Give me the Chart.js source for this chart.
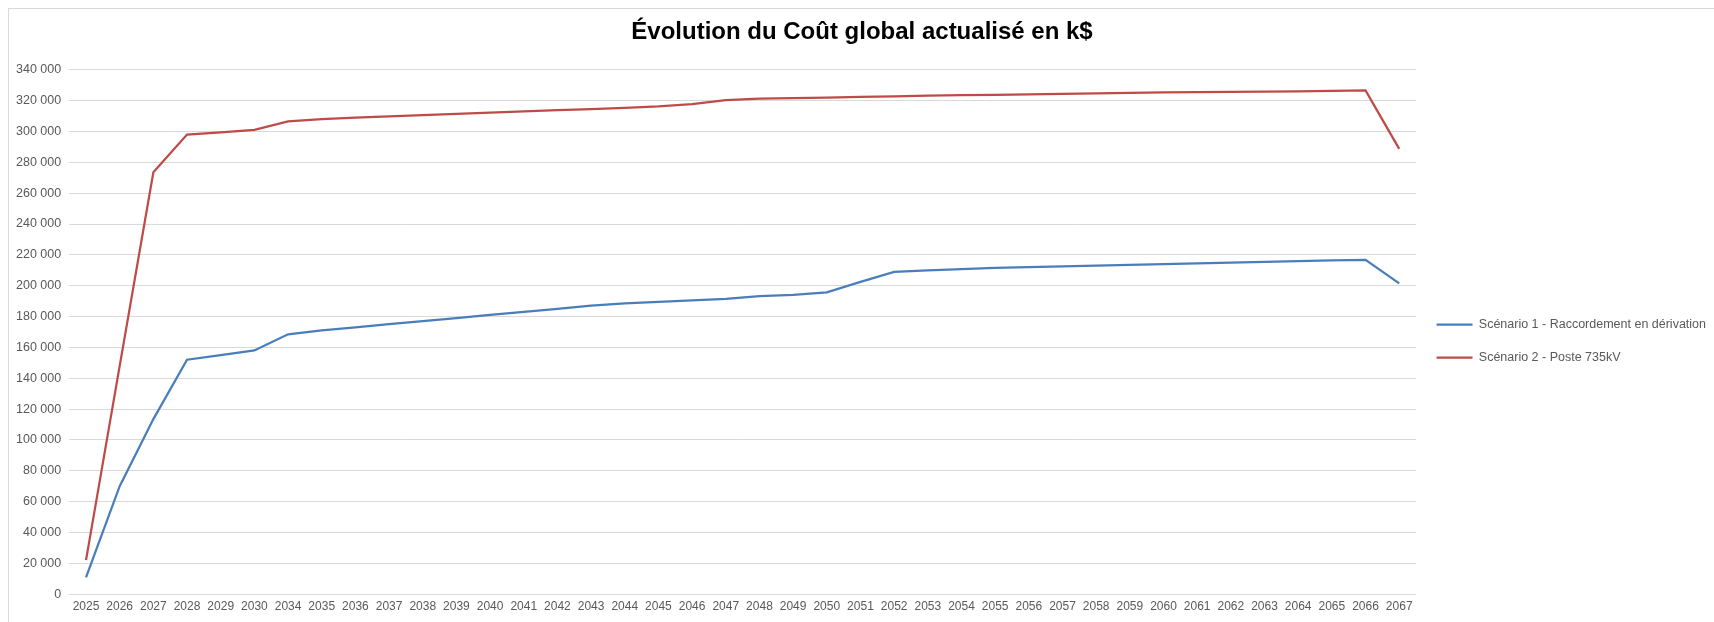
<!DOCTYPE html>
<html>
<head>
<meta charset="utf-8">
<script src="https://cdn.jsdelivr.net/npm/chart.js@4/dist/chart.umd.min.js"></script>
<style>
  html, body { margin: 0; padding: 0; background: #fff; overflow: hidden; }
  #frame { position: absolute; left: 8px; top: 8px; width: 1730px; height: 640px; border: 1px solid #d9d9d9; }
  #wrap { position: absolute; left: 0; top: 0; width: 1714px; height: 622px; }
</style>
</head>
<body>
<div id="frame"></div>
<div id="wrap"><canvas id="chart"></canvas></div>
<script>
// --- données ---
const annees = ['2025','2026','2027','2028','2029','2030','2034','2035','2036','2037','2038','2039','2040','2041','2042','2043','2044','2045','2046','2047','2048','2049','2050','2051','2052','2053','2054','2055','2056','2057','2058','2059','2060','2061','2062','2063','2064','2065','2066','2067'];

const scenario1 = [10800, 70000, 113500, 152000, 155000, 158000, 168500, 171000, 173000, 175000, 177000, 179000, 181000, 183000, 185000, 187000, 188500, 189500, 190500, 191500, 193300, 194000, 195700, 202500, 209000, 210000, 210800, 211500, 212000, 212500, 213000, 213500, 214000, 214500, 215000, 215500, 216000, 216400, 216800, 201500];

const scenario2 = [22000, 148000, 273500, 298000, 299500, 301000, 306500, 308000, 309000, 309800, 310600, 311400, 312200, 313000, 313800, 314500, 315300, 316300, 317800, 320300, 321300, 321700, 322000, 322400, 322800, 323200, 323500, 323800, 324100, 324400, 324700, 325000, 325300, 325500, 325700, 325900, 326000, 326300, 326600, 288700];

const FONT = "'Liberation Sans', Arial, sans-serif";
const GRIS = '#595959';

const ctx = document.getElementById('chart').getContext('2d');
const chart = new Chart(ctx, {
    type: 'line',
    data: {
        labels: annees,
        datasets: [
            { label: 'Scénario 1 - Raccordement en dérivation', data: scenario1, borderColor: '#4a7ebb', backgroundColor: '#4a7ebb', borderWidth: 2.25, pointRadius: 0, tension: 0 },
            { label: 'Scénario 2 - Poste 735kV', data: scenario2, borderColor: '#be4b48', backgroundColor: '#be4b48', borderWidth: 2.25, pointRadius: 0, tension: 0 }
        ]
    },
    options: {
        responsive: true,
        maintainAspectRatio: false,
        animation: false,
        layout: { padding: { left: 8, right: -2, top: 0, bottom: 2.5 } },
        plugins: {
            title: {
                display: true,
                text: 'Évolution du Coût global actualisé en k$',
                color: '#000',
                font: { family: FONT, size: 24, weight: 'bold' },
                padding: { top: 18, bottom: 23 }
            },
            legend: {
                position: 'right',
                fullSize: false,
                title: { display: true, text: ' ', font: { size: 10 }, padding: { top: 0, bottom: 6.5 } },
                labels: {
                    usePointStyle: true,
                    pointStyle: 'line',
                    pointStyleWidth: 36,
                    color: GRIS,
                    padding: 20.5,
                    font: { family: FONT, size: 12.5 }
                }
            },
            tooltip: { enabled: false }
        },
        scales: {
            x: {
                offset: true,
                grid: { display: false, drawTicks: false },
                border: { display: false },
                ticks: { color: GRIS, font: { family: FONT, size: 12 }, maxRotation: 0, autoSkip: false, padding: 5.5 }
            },
            y: {
                min: 0,
                max: 340000,
                grid: { color: '#d9d9d9', lineWidth: 1, drawTicks: false },
                border: { display: false },
                ticks: {
                    stepSize: 20000,
                    color: GRIS,
                    padding: 8,
                    font: { family: FONT, size: 12.5 },
                    callback: v => String(v).replace(/\B(?=(\d{3})+(?!\d))/g, ' ')
                }
            }
        }
    }
});
</script>
</body>
</html>
